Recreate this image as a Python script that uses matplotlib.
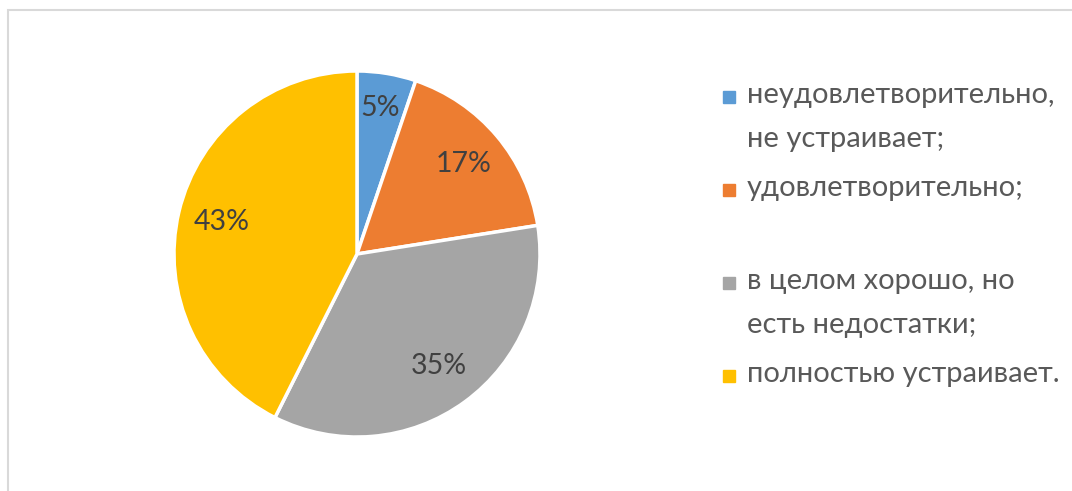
import matplotlib.pyplot as plt
from matplotlib.patches import Rectangle

# данные
labels = ['неудовлетворительно,\nне устраивает;', 'удовлетворительно;',
          'в целом хорошо, но\nесть недостатки;', 'полностью устраивает.']
values = [5.2, 17.3, 34.9, 42.6]
colors = ['#5B9BD5', '#ED7D31', '#A5A5A5', '#FFC000']

W, H = 1072, 491
fig = plt.figure(figsize=(W / 100, H / 100), dpi=100)
plt.rcParams['font.family'] = ['Lato', 'DejaVu Sans']

# рамка области диаграммы
fig.patches.append(Rectangle((8 / W, -0.1), 1.2, 1 - 10 / H + 0.1, transform=fig.transFigure,
                             fill=False, edgecolor='#D9D9D9', linewidth=1.5))

cx, cy, r = 357, 254, 183
ax = fig.add_axes([(cx - r) / W, (H - cy - r) / H, 2 * r / W, 2 * r / H])
wedges, texts, autotexts = ax.pie(values, colors=colors, startangle=90, counterclock=False,
                                  radius=1, autopct='%1.0f%%', pctdistance=0.76,
                                  wedgeprops=dict(edgecolor='white', linewidth=2.5),
                                  textprops=dict(fontsize=20.5, color='#404040'))
ax.set_xlim(-1, 1)
ax.set_ylim(-1, 1)
ax.set_aspect('equal')
autotexts[0].set_position((0.125, 0.80))

# легенда
y0 = 97
step = 93
for i, (lab, col) in enumerate(zip(labels, colors)):
    y = y0 + i * step
    fig.patches.append(Rectangle((723 / W, 1 - (y + 6) / H), 12 / W, 12 / H,
                                 transform=fig.transFigure, color=col))
    fig.text(747 / W, 1 - (y - 15) / H, lab, fontsize=21, color='#595959',
             va='top', ha='left', linespacing=1.88)

fig.savefig('out.png', dpi=100)
